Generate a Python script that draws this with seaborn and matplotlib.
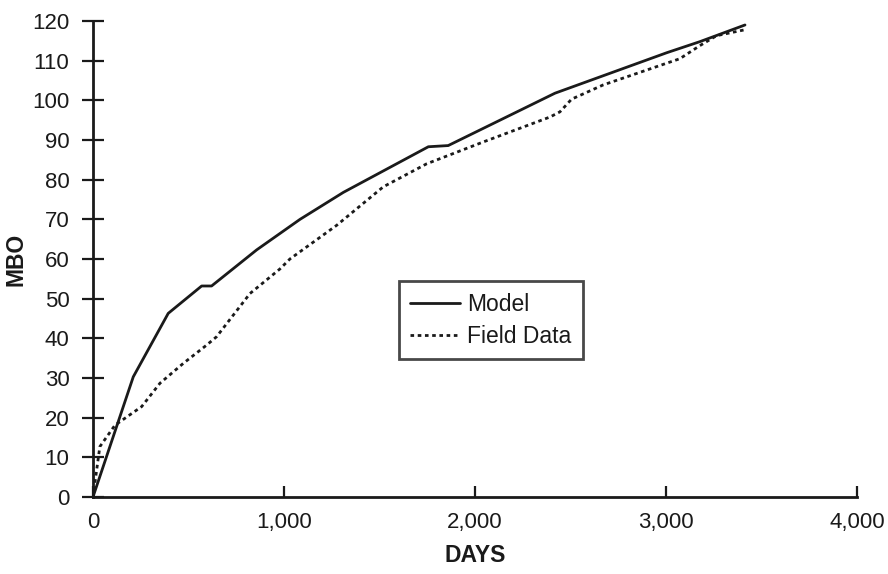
import matplotlib
matplotlib.use("Agg")
import matplotlib.pyplot as plt
import matplotlib.ticker as mticker
from matplotlib.lines import Line2D
import seaborn as sns
import pandas as pd

# Cumulative production (MBO) versus days on production
model_days = [0, 211, 394, 569, 621, 857, 1084, 1311, 1756, 1860, 2131, 2419, 3004, 3178, 3414]
model_mbo = [0, 30.3, 46.3, 53.2, 53.2, 62.3, 70.0, 76.8, 88.3, 88.6, 95.0, 101.8, 112.0, 114.8, 119.0]

field_days = [0, 36, 115, 255, 351, 473, 595, 647, 822, 979, 1031, 1276, 1520, 1747, 2043,
              2393, 2445, 2506, 2672, 3073, 3178, 3265, 3414]
field_mbo = [0, 12.7, 18.1, 22.8, 28.7, 33.7, 38.3, 40.4, 51.3, 57.5, 60.0, 68.5, 78.2, 84.0, 89.5,
             95.8, 97.1, 100.3, 103.9, 110.5, 113.8, 116.3, 117.8]

x_ticks = [0, 1000, 2000, 3000, 4000]
y_ticks = list(range(0, 121, 10))

df = pd.concat([
    pd.DataFrame({"DAYS": model_days, "MBO": model_mbo, "Series": "Model"}),
    pd.DataFrame({"DAYS": field_days, "MBO": field_mbo, "Series": "Field Data"}),
], ignore_index=True)

INK = "#1a1a1a"
DOTS = (1.3, 1.3)

sns.set_style("ticks")
plt.rcParams["font.family"] = ["Liberation Sans", "DejaVu Sans"]

fig = plt.figure(figsize=(8.88, 5.74), dpi=100)
ax = fig.add_axes([0.1047, 0.1341, 0.8603, 0.8293])

sns.lineplot(data=df, x="DAYS", y="MBO", style="Series",
             dashes={"Model": "", "Field Data": DOTS},
             color=INK, linewidth=2.0, sort=False, estimator=None,
             legend=False, ax=ax)

ax.set_xlim(0, 4000)
ax.set_ylim(0, 120)
ax.set_xticks(x_ticks)
ax.set_yticks(y_ticks)
ax.xaxis.set_major_formatter(mticker.FuncFormatter(lambda v, p: f"{int(v):,}"))
ax.tick_params(axis="x", direction="in", length=8, width=1.6, colors=INK,
               labelsize=16, pad=11)
ax.tick_params(axis="y", direction="inout", length=16, width=1.6, colors=INK,
               labelsize=16, pad=9)

sns.despine(ax=ax)
for side in ("left", "bottom"):
    ax.spines[side].set_linewidth(2.0)
    ax.spines[side].set_color(INK)

ax.set_xlabel("DAYS", fontsize=16.5, fontweight="bold", color=INK, labelpad=8)
ax.set_ylabel("MBO", fontsize=16.5, fontweight="bold", color=INK, labelpad=3)

handles = [Line2D([], [], color=INK, lw=2.0),
           Line2D([], [], color=INK, lw=2.0, dashes=DOTS)]
leg = ax.legend(handles, ["Model", "Field Data"], loc="upper left",
                bbox_to_anchor=(0.400, 0.453), frameon=True, fancybox=False,
                fontsize=16.5, handlelength=2.2, handletextpad=0.3,
                borderpad=0.5, labelspacing=0.4, borderaxespad=0)
leg.get_frame().set_edgecolor(INK)
leg.get_frame().set_linewidth(2.0)
for t in leg.get_texts():
    t.set_color(INK)

fig.savefig("out.png", dpi=100, facecolor="white")
